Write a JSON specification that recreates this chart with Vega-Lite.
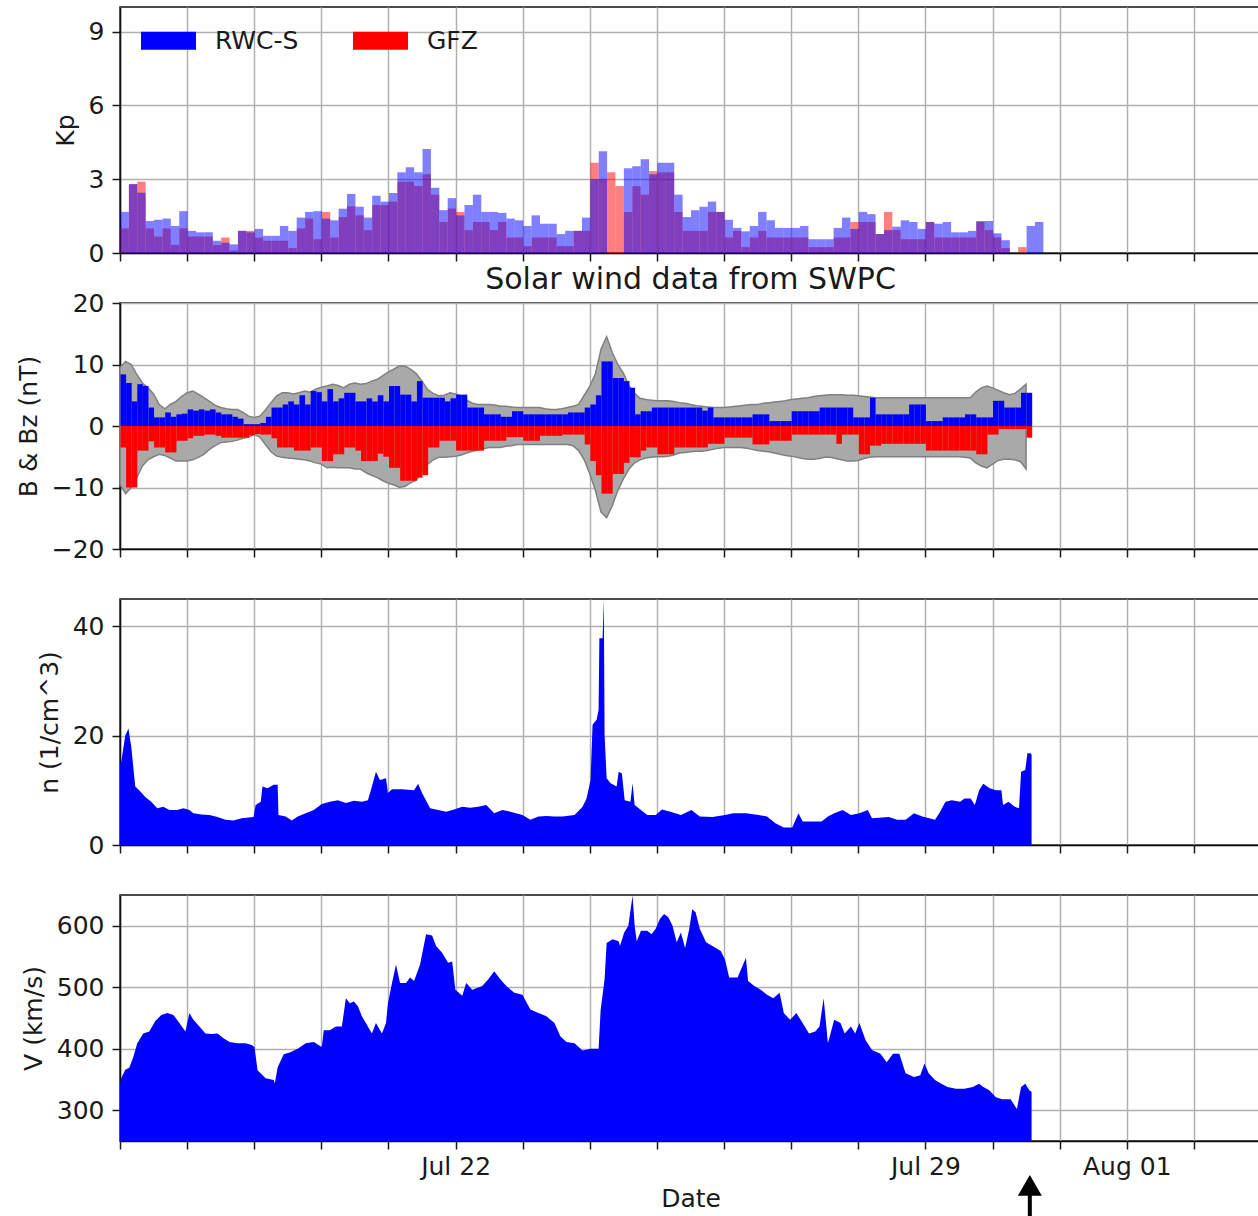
{
  "$schema": "https://vega.github.io/schema/vega-lite/v6.json",
  "background": "white",
  "padding": {"left": 15, "top": 6, "right": 0, "bottom": 0},
  "spacing": 50,
  "bounds": "flush",
  "config": {
    "font": "DejaVu Sans",
    "view": {"stroke": "#111", "strokeWidth": 1.5},
    "axis": {
      "labelFont": "DejaVu Sans", "labelFontSize": 25, "labelColor": "#1a1a1a",
      "titleFont": "DejaVu Sans", "titleFontSize": 25, "titleFontWeight": "normal", "titleColor": "#1a1a1a",
      "tickColor": "#1a1a1a", "tickSize": 8, "tickWidth": 1.5,
      "domainColor": "#111", "domainWidth": 1.5,
      "gridColor": "#b0b0b0", "gridWidth": 1.5, "gridOpacity": 1,
      "labelPadding": 8, "zindex": 1, "labelOverlap": false
    },
    "axisY": {"titlePadding": 10},
    "axisX": {"labelPadding": 5}
  },
  "vconcat": [
    {
      "width": 1141, "height": 246,
      "data": {
        "format": {"parse": {"t": "utc:'%Y-%m-%dT%H:%M'"}},
        "values": [
          {"t":"2023-07-17T00:00","RWC-S":1.67,"GFZ":1.0},{"t":"2023-07-17T03:00","RWC-S":2.8,"GFZ":2.8},{"t":"2023-07-17T06:00","RWC-S":2.45,"GFZ":2.9},{"t":"2023-07-17T09:00","RWC-S":1.3,"GFZ":1.0},
          {"t":"2023-07-17T12:00","RWC-S":1.35,"GFZ":0.67},{"t":"2023-07-17T15:00","RWC-S":1.4,"GFZ":1.0},{"t":"2023-07-17T18:00","RWC-S":1.1,"GFZ":0.33},{"t":"2023-07-17T21:00","RWC-S":1.7,"GFZ":1.0},
          {"t":"2023-07-18T00:00","RWC-S":0.9,"GFZ":0.67},{"t":"2023-07-18T03:00","RWC-S":0.84,"GFZ":0.67},{"t":"2023-07-18T06:00","RWC-S":0.84,"GFZ":0.67},{"t":"2023-07-18T09:00","RWC-S":0.5,"GFZ":0.33},
          {"t":"2023-07-18T12:00","RWC-S":0.42,"GFZ":0.63},{"t":"2023-07-18T15:00","RWC-S":0.35,"GFZ":0.1},{"t":"2023-07-18T18:00","RWC-S":0.9,"GFZ":0.9},{"t":"2023-07-18T21:00","RWC-S":0.84,"GFZ":0.9},
          {"t":"2023-07-19T00:00","RWC-S":0.98,"GFZ":0.63},{"t":"2023-07-19T03:00","RWC-S":0.7,"GFZ":0.5},{"t":"2023-07-19T06:00","RWC-S":0.7,"GFZ":0.5},{"t":"2023-07-19T09:00","RWC-S":1.1,"GFZ":0.5},
          {"t":"2023-07-19T12:00","RWC-S":0.9,"GFZ":0.2},{"t":"2023-07-19T15:00","RWC-S":1.44,"GFZ":1.0},{"t":"2023-07-19T18:00","RWC-S":1.67,"GFZ":1.4},{"t":"2023-07-19T21:00","RWC-S":1.7,"GFZ":0.56},
          {"t":"2023-07-20T00:00","RWC-S":1.4,"GFZ":1.67},{"t":"2023-07-20T03:00","RWC-S":1.33,"GFZ":0.63},{"t":"2023-07-20T06:00","RWC-S":1.8,"GFZ":1.46},{"t":"2023-07-20T09:00","RWC-S":2.4,"GFZ":1.9},
          {"t":"2023-07-20T12:00","RWC-S":1.88,"GFZ":1.53},{"t":"2023-07-20T15:00","RWC-S":1.44,"GFZ":0.93},{"t":"2023-07-20T18:00","RWC-S":2.33,"GFZ":1.95},{"t":"2023-07-20T21:00","RWC-S":2.09,"GFZ":1.95},
          {"t":"2023-07-21T00:00","RWC-S":2.44,"GFZ":2.09},{"t":"2023-07-21T03:00","RWC-S":3.28,"GFZ":2.9},{"t":"2023-07-21T06:00","RWC-S":3.49,"GFZ":2.9},{"t":"2023-07-21T09:00","RWC-S":3.28,"GFZ":2.72},
          {"t":"2023-07-21T12:00","RWC-S":4.23,"GFZ":3.2},{"t":"2023-07-21T15:00","RWC-S":2.65,"GFZ":2.37},{"t":"2023-07-21T18:00","RWC-S":1.74,"GFZ":1.26},{"t":"2023-07-21T21:00","RWC-S":2.23,"GFZ":1.81},
          {"t":"2023-07-22T00:00","RWC-S":1.53,"GFZ":1.67},{"t":"2023-07-22T03:00","RWC-S":1.95,"GFZ":0.93},{"t":"2023-07-22T06:00","RWC-S":2.37,"GFZ":1.26},{"t":"2023-07-22T09:00","RWC-S":1.67,"GFZ":1.26},
          {"t":"2023-07-22T12:00","RWC-S":1.67,"GFZ":0.93},{"t":"2023-07-22T15:00","RWC-S":1.63,"GFZ":1.26},{"t":"2023-07-22T18:00","RWC-S":1.4,"GFZ":0.63},{"t":"2023-07-22T21:00","RWC-S":1.33,"GFZ":0.63},
          {"t":"2023-07-23T00:00","RWC-S":1.1,"GFZ":0.28},{"t":"2023-07-23T03:00","RWC-S":1.53,"GFZ":0.63},{"t":"2023-07-23T06:00","RWC-S":1.19,"GFZ":0.63},{"t":"2023-07-23T09:00","RWC-S":1.19,"GFZ":0.63},
          {"t":"2023-07-23T12:00","RWC-S":0.77,"GFZ":0.28},{"t":"2023-07-23T15:00","RWC-S":0.9,"GFZ":0.28},{"t":"2023-07-23T18:00","RWC-S":0.9,"GFZ":0.9},{"t":"2023-07-23T21:00","RWC-S":1.44,"GFZ":0.9},
          {"t":"2023-07-24T00:00","RWC-S":3.0,"GFZ":3.67},{"t":"2023-07-24T03:00","RWC-S":4.14,"GFZ":3.0},{"t":"2023-07-24T06:00","RWC-S":null,"GFZ":3.28},{"t":"2023-07-24T09:00","RWC-S":null,"GFZ":2.72},
          {"t":"2023-07-24T12:00","RWC-S":3.45,"GFZ":1.67},{"t":"2023-07-24T15:00","RWC-S":3.53,"GFZ":2.72},{"t":"2023-07-24T18:00","RWC-S":3.81,"GFZ":2.37},{"t":"2023-07-24T21:00","RWC-S":3.2,"GFZ":3.33},
          {"t":"2023-07-25T00:00","RWC-S":3.67,"GFZ":3.28},{"t":"2023-07-25T03:00","RWC-S":3.67,"GFZ":3.28},{"t":"2023-07-25T06:00","RWC-S":2.37,"GFZ":1.67},{"t":"2023-07-25T09:00","RWC-S":1.46,"GFZ":0.9},
          {"t":"2023-07-25T12:00","RWC-S":1.74,"GFZ":0.9},{"t":"2023-07-25T15:00","RWC-S":1.88,"GFZ":0.9},{"t":"2023-07-25T18:00","RWC-S":2.09,"GFZ":1.67},{"t":"2023-07-25T21:00","RWC-S":1.67,"GFZ":1.67},
          {"t":"2023-07-26T00:00","RWC-S":1.35,"GFZ":0.63},{"t":"2023-07-26T03:00","RWC-S":1.02,"GFZ":0.9},{"t":"2023-07-26T06:00","RWC-S":0.88,"GFZ":0.24},{"t":"2023-07-26T09:00","RWC-S":1.1,"GFZ":0.63},
          {"t":"2023-07-26T12:00","RWC-S":1.67,"GFZ":0.9},{"t":"2023-07-26T15:00","RWC-S":1.33,"GFZ":0.63},{"t":"2023-07-26T18:00","RWC-S":1.02,"GFZ":0.63},{"t":"2023-07-26T21:00","RWC-S":1.02,"GFZ":0.63},
          {"t":"2023-07-27T00:00","RWC-S":1.02,"GFZ":0.63},{"t":"2023-07-27T03:00","RWC-S":1.1,"GFZ":0.63},{"t":"2023-07-27T06:00","RWC-S":0.56,"GFZ":0.24},{"t":"2023-07-27T09:00","RWC-S":0.56,"GFZ":0.24},
          {"t":"2023-07-27T12:00","RWC-S":0.56,"GFZ":0.24},{"t":"2023-07-27T15:00","RWC-S":1.02,"GFZ":0.63},{"t":"2023-07-27T18:00","RWC-S":1.44,"GFZ":0.63},{"t":"2023-07-27T21:00","RWC-S":0.98,"GFZ":1.26},
          {"t":"2023-07-28T00:00","RWC-S":1.67,"GFZ":1.26},{"t":"2023-07-28T03:00","RWC-S":1.58,"GFZ":1.26},{"t":"2023-07-28T06:00","RWC-S":0.77,"GFZ":0.77},{"t":"2023-07-28T09:00","RWC-S":0.93,"GFZ":1.67},
          {"t":"2023-07-28T12:00","RWC-S":1.07,"GFZ":0.93},{"t":"2023-07-28T15:00","RWC-S":1.33,"GFZ":0.56},{"t":"2023-07-28T18:00","RWC-S":1.26,"GFZ":0.56},{"t":"2023-07-28T21:00","RWC-S":0.98,"GFZ":0.56},
          {"t":"2023-07-29T00:00","RWC-S":1.26,"GFZ":1.26},{"t":"2023-07-29T03:00","RWC-S":1.19,"GFZ":0.63},{"t":"2023-07-29T06:00","RWC-S":1.26,"GFZ":0.63},{"t":"2023-07-29T09:00","RWC-S":0.84,"GFZ":0.63},
          {"t":"2023-07-29T12:00","RWC-S":0.84,"GFZ":0.63},{"t":"2023-07-29T15:00","RWC-S":0.9,"GFZ":0.63},{"t":"2023-07-29T18:00","RWC-S":1.3,"GFZ":1.26},{"t":"2023-07-29T21:00","RWC-S":1.3,"GFZ":0.93},
          {"t":"2023-07-30T00:00","RWC-S":0.8,"GFZ":0.63},{"t":"2023-07-30T03:00","RWC-S":0.52,"GFZ":0.2},{"t":"2023-07-30T06:00","RWC-S":0,"GFZ":0},{"t":"2023-07-30T09:00","RWC-S":0,"GFZ":0.24},
          {"t":"2023-07-30T12:00","RWC-S":1.1,"GFZ":null},{"t":"2023-07-30T15:00","RWC-S":1.26,"GFZ":null}
        ]
      },
      "transform": [{"fold": ["GFZ", "RWC-S"], "as": ["src", "kp"]}],
      "mark": {"type": "bar", "opacity": 0.5, "binSpacing": 0},
      "encoding": {
        "x": {"field": "t", "type": "temporal", "timeUnit": {"unit": "yearmonthdatehours", "step": 3, "utc": true},
          "scale": {"type": "utc", "domain": [{"year": 2023, "month": "jul", "date": 17, "utc": true}, {"year": 2023, "month": "aug", "date": 3, "utc": true}]},
          "axis": {"title": null, "labels": false, "tickCount": {"interval": "day", "step": 1}, "grid": true}},
        "y": {"field": "kp", "type": "quantitative", "stack": null, "scale": {"domain": [0, 10], "nice": false},
          "axis": {"values": [0, 3, 6, 9], "title": "Kp"}},
        "color": {"field": "src", "type": "nominal",
          "scale": {"domain": ["RWC-S", "GFZ"], "range": ["#0000ff", "#ff0000"]},
          "legend": {"orient": "none", "legendX": 21, "legendY": 6, "direction": "horizontal", "title": null,
            "symbolType": "M-1,-0.33H1V0.33H-1Z", "symbolSize": 3025, "symbolOpacity": 1, "symbolStrokeWidth": 0,
            "labelFont": "DejaVu Sans", "labelFontSize": 25, "labelColor": "#1a1a1a", "labelOffset": 19,
            "columnPadding": 54, "padding": 0}}
      }
    },
    {
      "width": 1141, "height": 246,
      "title": {"text": "Solar wind data from SWPC", "fontSize": 30, "fontWeight": "normal", "font": "DejaVu Sans", "color": "#1a1a1a", "anchor": "middle", "frame": "group", "offset": -4},
      "data": {
        "format": {"parse": {"t": "utc:'%Y-%m-%dT%H:%M'"}},
        "values": [
          {"t":"2023-07-17T00:00","hi":9.5,"lo":-9.5,"zp":8.4,"zn":-3.5},{"t":"2023-07-17T02:00","hi":10.5,"lo":-11,"zp":7,"zn":-10},{"t":"2023-07-17T04:00","hi":10,"lo":-10,"zp":4,"zn":-10},{"t":"2023-07-17T06:00","hi":8.4,"lo":-8.4,"zp":6.8,"zn":-4},
          {"t":"2023-07-17T08:00","hi":7,"lo":-6.5,"zp":6.5,"zn":-4},{"t":"2023-07-17T10:00","hi":6.2,"lo":-5.5,"zp":3,"zn":-2.5},{"t":"2023-07-17T12:00","hi":5.2,"lo":-5,"zp":1.4,"zn":-3.5},{"t":"2023-07-17T14:00","hi":3.5,"lo":-4.6,"zp":1.4,"zn":-3.5},
          {"t":"2023-07-17T16:00","hi":2.8,"lo":-4.8,"zp":2.2,"zn":-4.3},{"t":"2023-07-17T18:00","hi":3.5,"lo":-5.2,"zp":1.5,"zn":-4.3},{"t":"2023-07-17T20:00","hi":4,"lo":-5.7,"zp":1.9,"zn":-2.4},{"t":"2023-07-17T22:00","hi":4.8,"lo":-5.7,"zp":2,"zn":-2.4},
          {"t":"2023-07-18T00:00","hi":5.4,"lo":-5.7,"zp":2.7,"zn":-2},{"t":"2023-07-18T02:00","hi":5.7,"lo":-5.5,"zp":2.5,"zn":-1.6},{"t":"2023-07-18T04:00","hi":5.2,"lo":-5.1,"zp":2.7,"zn":-1.6},{"t":"2023-07-18T06:00","hi":4.6,"lo":-4.6,"zp":2.5,"zn":-1.4},
          {"t":"2023-07-18T08:00","hi":4,"lo":-3.8,"zp":2.7,"zn":-1.4},{"t":"2023-07-18T10:00","hi":3.4,"lo":-3.2,"zp":2.2,"zn":-1.6},{"t":"2023-07-18T12:00","hi":3,"lo":-2.7,"zp":1.9,"zn":-1.9},{"t":"2023-07-18T14:00","hi":2.8,"lo":-2.6,"zp":1.9,"zn":-1.9},
          {"t":"2023-07-18T16:00","hi":2.7,"lo":-2.5,"zp":1.5,"zn":-1.9},{"t":"2023-07-18T18:00","hi":2.7,"lo":-2.3,"zp":1.2,"zn":-1.9},{"t":"2023-07-18T20:00","hi":2.2,"lo":-2,"zp":0.3,"zn":-1.9},{"t":"2023-07-18T22:00","hi":1.6,"lo":-1.8,"zp":0.3,"zn":-1.5},
          {"t":"2023-07-19T00:00","hi":1.4,"lo":-1.4,"zp":0.3,"zn":-1.3},{"t":"2023-07-19T02:00","hi":1.6,"lo":-1.8,"zp":0.5,"zn":-1.4},{"t":"2023-07-19T04:00","hi":2.6,"lo":-3,"zp":1.5,"zn":-1.4},{"t":"2023-07-19T06:00","hi":3.8,"lo":-4.2,"zp":3,"zn":-2},
          {"t":"2023-07-19T08:00","hi":4.9,"lo":-4.9,"zp":3,"zn":-3.5},{"t":"2023-07-19T10:00","hi":5.4,"lo":-5.1,"zp":3.5,"zn":-3.5},{"t":"2023-07-19T12:00","hi":5.4,"lo":-5.2,"zp":4,"zn":-3.5},{"t":"2023-07-19T14:00","hi":5.2,"lo":-5.3,"zp":3.5,"zn":-4},
          {"t":"2023-07-19T16:00","hi":5.4,"lo":-5.4,"zp":5,"zn":-4},{"t":"2023-07-19T18:00","hi":5.7,"lo":-5.5,"zp":3.5,"zn":-4},{"t":"2023-07-19T20:00","hi":5.5,"lo":-5.7,"zp":5.7,"zn":-3.5},{"t":"2023-07-19T22:00","hi":6,"lo":-6,"zp":5.5,"zn":-3.5},
          {"t":"2023-07-20T00:00","hi":6.3,"lo":-6.2,"zp":4,"zn":-5.7},{"t":"2023-07-20T02:00","hi":6.5,"lo":-6.8,"zp":6,"zn":-5.7},{"t":"2023-07-20T04:00","hi":6.8,"lo":-6.7,"zp":4,"zn":-4.6},{"t":"2023-07-20T06:00","hi":6.6,"lo":-6.8,"zp":4.5,"zn":-4.6},
          {"t":"2023-07-20T08:00","hi":6.2,"lo":-6.8,"zp":5.4,"zn":-3.5},{"t":"2023-07-20T10:00","hi":6.8,"lo":-6.8,"zp":5.4,"zn":-3.5},{"t":"2023-07-20T12:00","hi":7,"lo":-7,"zp":4,"zn":-4},{"t":"2023-07-20T14:00","hi":6.8,"lo":-7,"zp":4,"zn":-5.7},
          {"t":"2023-07-20T16:00","hi":6.9,"lo":-7.6,"zp":4.5,"zn":-5.7},{"t":"2023-07-20T18:00","hi":7.3,"lo":-8,"zp":4,"zn":-5.7},{"t":"2023-07-20T20:00","hi":7.6,"lo":-8.4,"zp":5,"zn":-4.5},{"t":"2023-07-20T22:00","hi":8.2,"lo":-8.9,"zp":4,"zn":-5},
          {"t":"2023-07-21T00:00","hi":8.8,"lo":-9.3,"zp":6.5,"zn":-6.8},{"t":"2023-07-21T02:00","hi":9.3,"lo":-9.6,"zp":6.5,"zn":-6.8},{"t":"2023-07-21T04:00","hi":9.8,"lo":-10,"zp":5.1,"zn":-8.9},{"t":"2023-07-21T06:00","hi":9.7,"lo":-9.8,"zp":5.1,"zn":-8.9},
          {"t":"2023-07-21T08:00","hi":9.2,"lo":-9.2,"zp":4,"zn":-8.9},{"t":"2023-07-21T10:00","hi":8.5,"lo":-8.8,"zp":7.3,"zn":-8.4},{"t":"2023-07-21T12:00","hi":7.3,"lo":-7.5,"zp":4.6,"zn":-8},{"t":"2023-07-21T14:00","hi":5.9,"lo":-6.2,"zp":4.6,"zn":-3.5},
          {"t":"2023-07-21T16:00","hi":5.3,"lo":-5.5,"zp":4.6,"zn":-3.5},{"t":"2023-07-21T18:00","hi":4.9,"lo":-5.1,"zp":4.6,"zn":-2.4},{"t":"2023-07-21T20:00","hi":5,"lo":-5.1,"zp":4,"zn":-2.4},{"t":"2023-07-21T22:00","hi":5.4,"lo":-5,"zp":4.5,"zn":-2.4},
          {"t":"2023-07-22T00:00","hi":5.2,"lo":-4.9,"zp":5.1,"zn":-4},{"t":"2023-07-22T02:00","hi":4.9,"lo":-4.7,"zp":5.1,"zn":-4},{"t":"2023-07-22T04:00","hi":4.2,"lo":-4.4,"zp":3,"zn":-4},{"t":"2023-07-22T06:00","hi":3.7,"lo":-4.1,"zp":3,"zn":-4},
          {"t":"2023-07-22T08:00","hi":3.5,"lo":-3.9,"zp":3,"zn":-4},{"t":"2023-07-22T10:00","hi":3.5,"lo":-3.7,"zp":1.9,"zn":-2.4},{"t":"2023-07-22T12:00","hi":3.5,"lo":-3.5,"zp":1.9,"zn":-2.4},{"t":"2023-07-22T14:00","hi":3.4,"lo":-3.5,"zp":1.9,"zn":-2.4},
          {"t":"2023-07-22T16:00","hi":3.2,"lo":-3.5,"zp":1.5,"zn":-2.4},{"t":"2023-07-22T18:00","hi":3.2,"lo":-3.3,"zp":1.5,"zn":-1.8},{"t":"2023-07-22T20:00","hi":3.1,"lo":-3.2,"zp":2.4,"zn":-1.8},{"t":"2023-07-22T22:00","hi":3,"lo":-3,"zp":2.4,"zn":-1.8},
          {"t":"2023-07-23T00:00","hi":3,"lo":-3,"zp":1.9,"zn":-2.4},{"t":"2023-07-23T02:00","hi":3,"lo":-3,"zp":1.9,"zn":-2.4},{"t":"2023-07-23T04:00","hi":3,"lo":-3,"zp":1.9,"zn":-2.4},{"t":"2023-07-23T06:00","hi":3,"lo":-3,"zp":1.9,"zn":-1.6},
          {"t":"2023-07-23T08:00","hi":2.8,"lo":-3,"zp":1.9,"zn":-1.6},{"t":"2023-07-23T10:00","hi":2.7,"lo":-3,"zp":1.9,"zn":-1.6},{"t":"2023-07-23T12:00","hi":2.7,"lo":-3,"zp":1.9,"zn":-1.6},{"t":"2023-07-23T14:00","hi":2.8,"lo":-3,"zp":1.9,"zn":-1.4},
          {"t":"2023-07-23T16:00","hi":3,"lo":-3,"zp":2.2,"zn":-1.4},{"t":"2023-07-23T18:00","hi":3.2,"lo":-3.2,"zp":2.2,"zn":-1.4},{"t":"2023-07-23T20:00","hi":3.5,"lo":-4,"zp":2.2,"zn":-1.4},{"t":"2023-07-23T22:00","hi":5,"lo":-5.5,"zp":3,"zn":-3},
          {"t":"2023-07-24T00:00","hi":6.5,"lo":-7.8,"zp":3.5,"zn":-5.7},{"t":"2023-07-24T02:00","hi":8.5,"lo":-10.5,"zp":5,"zn":-8},{"t":"2023-07-24T04:00","hi":12.5,"lo":-14,"zp":10.5,"zn":-11},{"t":"2023-07-24T06:00","hi":14.5,"lo":-14.9,"zp":10.5,"zn":-11},
          {"t":"2023-07-24T08:00","hi":12,"lo":-13,"zp":7.8,"zn":-7.8},{"t":"2023-07-24T10:00","hi":10,"lo":-10.5,"zp":7.8,"zn":-7.8},{"t":"2023-07-24T12:00","hi":8.6,"lo":-8.6,"zp":7.3,"zn":-6},{"t":"2023-07-24T14:00","hi":6.5,"lo":-7,"zp":6.2,"zn":-5.1},
          {"t":"2023-07-24T16:00","hi":5.3,"lo":-6,"zp":1.9,"zn":-5.1},{"t":"2023-07-24T18:00","hi":4.5,"lo":-5.5,"zp":2.4,"zn":-4},{"t":"2023-07-24T20:00","hi":4.3,"lo":-5.2,"zp":2.4,"zn":-3.5},{"t":"2023-07-24T22:00","hi":4.2,"lo":-5.1,"zp":3,"zn":-3.5},
          {"t":"2023-07-25T00:00","hi":4.1,"lo":-5,"zp":3,"zn":-4.6},{"t":"2023-07-25T02:00","hi":4.1,"lo":-5,"zp":3,"zn":-4.6},{"t":"2023-07-25T04:00","hi":4.1,"lo":-4.9,"zp":3,"zn":-4.6},{"t":"2023-07-25T06:00","hi":4,"lo":-4.7,"zp":3,"zn":-3.5},
          {"t":"2023-07-25T08:00","hi":3.8,"lo":-4.4,"zp":3,"zn":-3.5},{"t":"2023-07-25T10:00","hi":3.7,"lo":-4.3,"zp":3,"zn":-3.5},{"t":"2023-07-25T12:00","hi":3.5,"lo":-4.2,"zp":3,"zn":-3.5},{"t":"2023-07-25T14:00","hi":3.3,"lo":-4.1,"zp":3,"zn":-3.5},
          {"t":"2023-07-25T16:00","hi":3.2,"lo":-4.1,"zp":2.5,"zn":-3.5},{"t":"2023-07-25T18:00","hi":3.1,"lo":-4,"zp":3,"zn":-2.9},{"t":"2023-07-25T20:00","hi":3,"lo":-3.8,"zp":1.4,"zn":-2.9},{"t":"2023-07-25T22:00","hi":3,"lo":-3.6,"zp":1.4,"zn":-2.9},
          {"t":"2023-07-26T00:00","hi":3,"lo":-3.5,"zp":1.4,"zn":-1.9},{"t":"2023-07-26T02:00","hi":3.1,"lo":-3.5,"zp":1.4,"zn":-1.9},{"t":"2023-07-26T04:00","hi":3.2,"lo":-3.5,"zp":1.4,"zn":-1.9},{"t":"2023-07-26T06:00","hi":3.3,"lo":-3.5,"zp":1.4,"zn":-1.9},
          {"t":"2023-07-26T08:00","hi":3.4,"lo":-3.6,"zp":1.4,"zn":-1.9},{"t":"2023-07-26T10:00","hi":3.5,"lo":-3.8,"zp":1.9,"zn":-3},{"t":"2023-07-26T12:00","hi":3.5,"lo":-4,"zp":1.9,"zn":-3},{"t":"2023-07-26T14:00","hi":3.7,"lo":-4.1,"zp":1.9,"zn":-3},
          {"t":"2023-07-26T16:00","hi":3.8,"lo":-4.2,"zp":0.8,"zn":-2.4},{"t":"2023-07-26T18:00","hi":3.9,"lo":-4.4,"zp":0.8,"zn":-2.4},{"t":"2023-07-26T20:00","hi":4,"lo":-4.6,"zp":0.8,"zn":-2.4},{"t":"2023-07-26T22:00","hi":4.1,"lo":-4.8,"zp":0.8,"zn":-2.4},
          {"t":"2023-07-27T00:00","hi":4.3,"lo":-4.9,"zp":2.4,"zn":-1.4},{"t":"2023-07-27T02:00","hi":4.4,"lo":-5.1,"zp":2.4,"zn":-1.4},{"t":"2023-07-27T04:00","hi":4.5,"lo":-5.3,"zp":2.4,"zn":-1.4},{"t":"2023-07-27T06:00","hi":4.6,"lo":-5.4,"zp":2.4,"zn":-1.4},
          {"t":"2023-07-27T08:00","hi":4.8,"lo":-5.4,"zp":2.4,"zn":-1.4},{"t":"2023-07-27T10:00","hi":4.9,"lo":-5.3,"zp":3,"zn":-1.4},{"t":"2023-07-27T12:00","hi":5,"lo":-5.1,"zp":3,"zn":-1.4},{"t":"2023-07-27T14:00","hi":5.1,"lo":-5.1,"zp":3,"zn":-1.4},
          {"t":"2023-07-27T16:00","hi":5.1,"lo":-5.3,"zp":3,"zn":-2.9},{"t":"2023-07-27T18:00","hi":5.1,"lo":-5.5,"zp":3,"zn":-1.4},{"t":"2023-07-27T20:00","hi":5,"lo":-5.7,"zp":3,"zn":-1.4},{"t":"2023-07-27T22:00","hi":5,"lo":-5.7,"zp":1.4,"zn":-1.4},
          {"t":"2023-07-28T00:00","hi":4.9,"lo":-5.6,"zp":1.4,"zn":-4.6},{"t":"2023-07-28T02:00","hi":4.8,"lo":-5.3,"zp":1.4,"zn":-4.6},{"t":"2023-07-28T04:00","hi":4.7,"lo":-5.1,"zp":4.6,"zn":-3.2},{"t":"2023-07-28T06:00","hi":4.6,"lo":-5,"zp":1.9,"zn":-3.2},
          {"t":"2023-07-28T08:00","hi":4.6,"lo":-5,"zp":1.9,"zn":-2.9},{"t":"2023-07-28T10:00","hi":4.6,"lo":-5,"zp":1.9,"zn":-2.9},{"t":"2023-07-28T12:00","hi":4.6,"lo":-5,"zp":1.9,"zn":-2.9},{"t":"2023-07-28T14:00","hi":4.6,"lo":-5,"zp":1.9,"zn":-2.9},
          {"t":"2023-07-28T16:00","hi":4.6,"lo":-5,"zp":1.9,"zn":-2.9},{"t":"2023-07-28T18:00","hi":4.6,"lo":-5,"zp":3.5,"zn":-2.9},{"t":"2023-07-28T20:00","hi":4.6,"lo":-5,"zp":3.5,"zn":-2.9},{"t":"2023-07-28T22:00","hi":4.6,"lo":-5,"zp":3.5,"zn":-2.9},
          {"t":"2023-07-29T00:00","hi":4.6,"lo":-5,"zp":0.8,"zn":-4},{"t":"2023-07-29T02:00","hi":4.6,"lo":-5,"zp":0.8,"zn":-4},{"t":"2023-07-29T04:00","hi":4.6,"lo":-5,"zp":0.8,"zn":-4},{"t":"2023-07-29T06:00","hi":4.6,"lo":-5,"zp":1.4,"zn":-4},
          {"t":"2023-07-29T08:00","hi":4.6,"lo":-5,"zp":1.4,"zn":-4},{"t":"2023-07-29T10:00","hi":4.6,"lo":-5,"zp":1.4,"zn":-4},{"t":"2023-07-29T12:00","hi":4.6,"lo":-5,"zp":1.4,"zn":-4},{"t":"2023-07-29T14:00","hi":4.6,"lo":-5.1,"zp":1.9,"zn":-4},
          {"t":"2023-07-29T16:00","hi":4.6,"lo":-5.2,"zp":1.9,"zn":-4},{"t":"2023-07-29T18:00","hi":5.5,"lo":-6,"zp":1.4,"zn":-4.6},{"t":"2023-07-29T20:00","hi":6.2,"lo":-6.5,"zp":1.4,"zn":-4.6},{"t":"2023-07-29T22:00","hi":6.5,"lo":-6.8,"zp":1.4,"zn":-1.4},
          {"t":"2023-07-30T00:00","hi":6.2,"lo":-6.2,"zp":4.1,"zn":-1.4},{"t":"2023-07-30T02:00","hi":5.8,"lo":-5.6,"zp":4.1,"zn":-0.5},{"t":"2023-07-30T04:00","hi":5.4,"lo":-5.4,"zp":3,"zn":-0.5},{"t":"2023-07-30T06:00","hi":5.1,"lo":-5.4,"zp":3,"zn":-0.5},
          {"t":"2023-07-30T08:00","hi":5.3,"lo":-5.5,"zp":3,"zn":-0.5},{"t":"2023-07-30T10:00","hi":6,"lo":-5.8,"zp":5.4,"zn":-0.5},{"t":"2023-07-30T12:00","hi":6.8,"lo":-7,"zp":5.4,"zn":-1.9}
        ]
      },
      "layer": [
        {
          "mark": {"type": "area", "color": "#a9a9a9", "stroke": "#808080", "strokeWidth": 1.5, "opacity": 1},
          "encoding": {
            "x": {"field": "t", "type": "temporal",
              "scale": {"type": "utc", "domain": [{"year": 2023, "month": "jul", "date": 17, "utc": true}, {"year": 2023, "month": "aug", "date": 3, "utc": true}]},
              "axis": {"title": null, "labels": false, "tickCount": {"interval": "day", "step": 1}, "grid": true}},
            "y": {"field": "hi", "type": "quantitative", "scale": {"domain": [-20, 20], "nice": false},
              "axis": {"values": [-20, -10, 0, 10, 20], "title": "B & Bz (nT)"}},
            "y2": {"field": "lo"}
          }
        },
        {
          "mark": {"type": "bar", "color": "#0000ff", "binSpacing": 0},
          "encoding": {
            "x": {"field": "t", "type": "temporal", "timeUnit": {"unit": "yearmonthdatehours", "step": 2, "utc": true}},
            "y": {"field": "zp", "type": "quantitative"}
          }
        },
        {
          "mark": {"type": "bar", "color": "#ff0000", "binSpacing": 0},
          "encoding": {
            "x": {"field": "t", "type": "temporal", "timeUnit": {"unit": "yearmonthdatehours", "step": 2, "utc": true}},
            "y": {"field": "zn", "type": "quantitative"}
          }
        }
      ]
    },
    {
      "width": 1141, "height": 246,
      "data": {
        "format": {"parse": {"t": "utc:'%Y-%m-%dT%H:%M'"}},
        "values": [
          {"t":"2023-07-17T00:00","n":15},{"t":"2023-07-17T00:26","n":15.2},{"t":"2023-07-17T01:52","n":20},{"t":"2023-07-17T03:01","n":21.3},{"t":"2023-07-17T04:01","n":18},{"t":"2023-07-17T05:27","n":10.7},
          {"t":"2023-07-17T06:53","n":10},{"t":"2023-07-17T09:02","n":8.8},{"t":"2023-07-17T11:11","n":7.9},{"t":"2023-07-17T13:20","n":6.7},{"t":"2023-07-17T15:29","n":7},{"t":"2023-07-17T17:38","n":6.4},
          {"t":"2023-07-17T20:31","n":6.4},{"t":"2023-07-17T22:40","n":6.7},{"t":"2023-07-18T00:49","n":6.4},{"t":"2023-07-18T02:15","n":5.8},{"t":"2023-07-18T05:07","n":5.6},{"t":"2023-07-18T07:59","n":5.5},
          {"t":"2023-07-18T10:52","n":5.1},{"t":"2023-07-18T13:44","n":4.6},{"t":"2023-07-18T16:36","n":4.5},{"t":"2023-07-18T19:28","n":4.9},{"t":"2023-07-18T23:46","n":5.1},{"t":"2023-07-19T00:29","n":7.3},
          {"t":"2023-07-19T02:21","n":7.9},{"t":"2023-07-19T02:55","n":10.7},{"t":"2023-07-19T04:47","n":10.4},{"t":"2023-07-19T06:57","n":11},{"t":"2023-07-19T08:23","n":11},{"t":"2023-07-19T08:40","n":5.5},
          {"t":"2023-07-19T11:15","n":5.2},{"t":"2023-07-19T13:24","n":4.5},{"t":"2023-07-19T15:33","n":5.2},{"t":"2023-07-19T18:25","n":5.8},{"t":"2023-07-19T21:17","n":6.4},{"t":"2023-07-20T00:10","n":7.5},
          {"t":"2023-07-20T03:01","n":7.9},{"t":"2023-07-20T05:54","n":8.2},{"t":"2023-07-20T08:46","n":7.7},{"t":"2023-07-20T11:38","n":8.1},{"t":"2023-07-20T14:30","n":7.9},{"t":"2023-07-20T16:39","n":8.2},
          {"t":"2023-07-20T18:05","n":10.7},{"t":"2023-07-20T19:31","n":13.4},{"t":"2023-07-20T20:57","n":11.9},{"t":"2023-07-20T23:07","n":12.2},{"t":"2023-07-20T23:49","n":9.5},{"t":"2023-07-21T01:16","n":10.2},
          {"t":"2023-07-21T04:50","n":10.2},{"t":"2023-07-21T09:09","n":10},{"t":"2023-07-21T10:35","n":11.2},{"t":"2023-07-21T12:01","n":9.5},{"t":"2023-07-21T14:53","n":6.7},{"t":"2023-07-21T17:46","n":6.4},
          {"t":"2023-07-21T20:38","n":6.1},{"t":"2023-07-21T23:29","n":6.5},{"t":"2023-07-22T02:22","n":7},{"t":"2023-07-22T05:14","n":6.8},{"t":"2023-07-22T08:06","n":7},{"t":"2023-07-22T10:58","n":7.3},
          {"t":"2023-07-22T13:50","n":5.8},{"t":"2023-07-22T16:43","n":6.4},{"t":"2023-07-22T19:35","n":6.1},{"t":"2023-07-22T23:53","n":5.5},{"t":"2023-07-23T02:45","n":4.6},{"t":"2023-07-23T05:37","n":5.2},
          {"t":"2023-07-23T08:29","n":5.3},{"t":"2023-07-23T11:22","n":5.2},{"t":"2023-07-23T14:14","n":5.2},{"t":"2023-07-23T18:32","n":5.5},{"t":"2023-07-23T21:24","n":7},{"t":"2023-07-23T22:50","n":8.5},
          {"t":"2023-07-24T00:16","n":11.9},{"t":"2023-07-24T00:59","n":22},{"t":"2023-07-24T02:25","n":22.9},{"t":"2023-07-24T03:08","n":24.7},{"t":"2023-07-24T03:25","n":37.8},{"t":"2023-07-24T04:34","n":37.8},
          {"t":"2023-07-24T05:00","n":45},{"t":"2023-07-24T05:17","n":20},{"t":"2023-07-24T06:01","n":12.2},{"t":"2023-07-24T07:26","n":11.3},{"t":"2023-07-24T09:35","n":10.7},{"t":"2023-07-24T10:19","n":13.4},
          {"t":"2023-07-24T11:28","n":13.1},{"t":"2023-07-24T12:28","n":8.2},{"t":"2023-07-24T14:32","n":7.9},{"t":"2023-07-24T15:17","n":11.3},{"t":"2023-07-24T16:02","n":7.3},{"t":"2023-07-24T18:17","n":6.4},
          {"t":"2023-07-24T20:33","n":5.5},{"t":"2023-07-24T23:33","n":5.5},{"t":"2023-07-25T01:48","n":6.5},{"t":"2023-07-25T04:49","n":6.1},{"t":"2023-07-25T08:34","n":5.5},{"t":"2023-07-25T12:19","n":6.4},
          {"t":"2023-07-25T15:19","n":5.2},{"t":"2023-07-25T19:50","n":5.1},{"t":"2023-07-26T00:20","n":5.5},{"t":"2023-07-26T03:20","n":5.8},{"t":"2023-07-26T07:50","n":5.8},{"t":"2023-07-26T12:21","n":5.5},
          {"t":"2023-07-26T15:21","n":5.2},{"t":"2023-07-26T18:21","n":4},{"t":"2023-07-26T21:22","n":3.2},{"t":"2023-07-27T00:22","n":3.2},{"t":"2023-07-27T02:37","n":5.8},{"t":"2023-07-27T04:07","n":4.3},
          {"t":"2023-07-27T10:52","n":4.3},{"t":"2023-07-27T13:08","n":5.2},{"t":"2023-07-27T15:23","n":5.8},{"t":"2023-07-27T18:23","n":6.4},{"t":"2023-07-27T21:23","n":5.5},{"t":"2023-07-28T00:23","n":5.8},
          {"t":"2023-07-28T03:24","n":6.4},{"t":"2023-07-28T04:54","n":4.9},{"t":"2023-07-28T10:54","n":5.1},{"t":"2023-07-28T13:55","n":4.6},{"t":"2023-07-28T16:55","n":4.6},{"t":"2023-07-28T19:55","n":5.8},
          {"t":"2023-07-28T22:55","n":5.2},{"t":"2023-07-29T03:26","n":4.6},{"t":"2023-07-29T04:56","n":5.8},{"t":"2023-07-29T07:11","n":7.9},{"t":"2023-07-29T09:26","n":8.2},{"t":"2023-07-29T12:26","n":7.9},
          {"t":"2023-07-29T13:56","n":8.5},{"t":"2023-07-29T16:11","n":8.5},{"t":"2023-07-29T17:41","n":7.3},{"t":"2023-07-29T19:12","n":10},{"t":"2023-07-29T20:42","n":11.2},{"t":"2023-07-29T22:57","n":10.4},
          {"t":"2023-07-30T01:12","n":10},{"t":"2023-07-30T03:10","n":10},{"t":"2023-07-30T03:46","n":7.3},{"t":"2023-07-30T05:43","n":7.9},{"t":"2023-07-30T07:58","n":7},{"t":"2023-07-30T09:28","n":6.7},
          {"t":"2023-07-30T10:13","n":13.4},{"t":"2023-07-30T11:43","n":13.7},{"t":"2023-07-30T12:28","n":16.8},{"t":"2023-07-30T13:40","n":16.8},{"t":"2023-07-30T13:58","n":16.5}
        ]
      },
      "mark": {"type": "area", "color": "#0000ff", "opacity": 1},
      "encoding": {
        "x": {"field": "t", "type": "temporal",
          "scale": {"type": "utc", "domain": [{"year": 2023, "month": "jul", "date": 17, "utc": true}, {"year": 2023, "month": "aug", "date": 3, "utc": true}]},
          "axis": {"title": null, "labels": false, "tickCount": {"interval": "day", "step": 1}, "grid": true}},
        "y": {"field": "n", "type": "quantitative", "scale": {"domain": [0, 45], "nice": false},
          "axis": {"values": [0, 20, 40], "title": "n (1/cm^3)"}}
      }
    },
    {
      "width": 1141, "height": 246,
      "layer": [
        {
          "data": {
            "format": {"parse": {"t": "utc:'%Y-%m-%dT%H:%M'"}},
            "values": [
              {"t":"2023-07-17T00:00","v":340},{"t":"2023-07-17T00:26","v":352},{"t":"2023-07-17T01:52","v":366},{"t":"2023-07-17T03:18","v":369},{"t":"2023-07-17T04:44","v":386},{"t":"2023-07-17T06:10","v":409},
              {"t":"2023-07-17T08:19","v":425},{"t":"2023-07-17T10:28","v":428},{"t":"2023-07-17T12:37","v":445},{"t":"2023-07-17T14:47","v":455},{"t":"2023-07-17T16:56","v":458},{"t":"2023-07-17T19:05","v":455},
              {"t":"2023-07-17T21:14","v":442},{"t":"2023-07-17T23:23","v":428},{"t":"2023-07-18T00:49","v":458},{"t":"2023-07-18T02:15","v":447},{"t":"2023-07-18T04:24","v":436},{"t":"2023-07-18T06:33","v":425},
              {"t":"2023-07-18T08:42","v":424},{"t":"2023-07-18T10:52","v":425},{"t":"2023-07-18T13:01","v":417},{"t":"2023-07-18T15:10","v":411},{"t":"2023-07-18T18:02","v":409},{"t":"2023-07-18T20:54","v":409},
              {"t":"2023-07-18T23:03","v":406},{"t":"2023-07-19T00:04","v":403},{"t":"2023-07-19T01:12","v":365},{"t":"2023-07-19T04:04","v":352},{"t":"2023-07-19T06:57","v":349},{"t":"2023-07-19T07:22","v":344},
              {"t":"2023-07-19T08:23","v":370},{"t":"2023-07-19T10:32","v":391},{"t":"2023-07-19T12:41","v":394},{"t":"2023-07-19T15:33","v":400},{"t":"2023-07-19T18:25","v":409},{"t":"2023-07-19T21:17","v":411},
              {"t":"2023-07-20T00:10","v":403},{"t":"2023-07-20T00:52","v":430},{"t":"2023-07-20T03:01","v":430},{"t":"2023-07-20T05:11","v":436},{"t":"2023-07-20T07:20","v":436},{"t":"2023-07-20T08:46","v":482},
              {"t":"2023-07-20T10:12","v":474},{"t":"2023-07-20T11:38","v":477},{"t":"2023-07-20T13:04","v":469},{"t":"2023-07-20T14:30","v":453},{"t":"2023-07-20T16:39","v":436},{"t":"2023-07-20T18:05","v":425},
              {"t":"2023-07-20T19:31","v":442},{"t":"2023-07-20T21:40","v":425},{"t":"2023-07-20T23:07","v":442},{"t":"2023-07-20T23:49","v":474},{"t":"2023-07-21T01:16","v":507},{"t":"2023-07-21T02:41","v":537},
              {"t":"2023-07-21T04:08","v":507},{"t":"2023-07-21T06:17","v":507},{"t":"2023-07-21T07:43","v":516},{"t":"2023-07-21T09:09","v":510},{"t":"2023-07-21T11:18","v":537},{"t":"2023-07-21T13:27","v":586},
              {"t":"2023-07-21T15:36","v":584},{"t":"2023-07-21T17:02","v":567},{"t":"2023-07-21T19:11","v":556},{"t":"2023-07-21T21:20","v":540},{"t":"2023-07-21T22:47","v":542},{"t":"2023-07-21T23:55","v":496},
              {"t":"2023-07-22T02:22","v":486},{"t":"2023-07-22T03:48","v":507},{"t":"2023-07-22T05:57","v":496},{"t":"2023-07-22T09:32","v":502},{"t":"2023-07-22T11:41","v":513},{"t":"2023-07-22T13:50","v":526},
              {"t":"2023-07-22T15:59","v":513},{"t":"2023-07-22T18:08","v":502},{"t":"2023-07-22T21:01","v":491},{"t":"2023-07-22T23:53","v":488},{"t":"2023-07-23T02:45","v":464},{"t":"2023-07-23T05:37","v":458},
              {"t":"2023-07-23T08:29","v":453},{"t":"2023-07-23T11:22","v":442},{"t":"2023-07-23T13:31","v":420},{"t":"2023-07-23T15:40","v":411},{"t":"2023-07-23T18:32","v":409},{"t":"2023-07-23T21:24","v":397},
              {"t":"2023-07-24T00:16","v":400},{"t":"2023-07-24T03:08","v":400},{"t":"2023-07-24T03:52","v":463},{"t":"2023-07-24T05:17","v":513},{"t":"2023-07-24T06:01","v":572},{"t":"2023-07-24T08:10","v":578},
              {"t":"2023-07-24T10:19","v":575},{"t":"2023-07-24T10:47","v":567},{"t":"2023-07-24T12:17","v":589},{"t":"2023-07-24T13:47","v":600},{"t":"2023-07-24T15:17","v":649},{"t":"2023-07-24T16:02","v":600},
              {"t":"2023-07-24T16:47","v":575},{"t":"2023-07-24T18:17","v":592},{"t":"2023-07-24T20:33","v":592},{"t":"2023-07-24T22:03","v":586},{"t":"2023-07-24T23:33","v":595},{"t":"2023-07-25T01:03","v":611},
              {"t":"2023-07-25T02:33","v":619},{"t":"2023-07-25T04:04","v":614},{"t":"2023-07-25T05:34","v":600},{"t":"2023-07-25T07:04","v":573},{"t":"2023-07-25T08:34","v":589},{"t":"2023-07-25T10:04","v":564},
              {"t":"2023-07-25T11:34","v":595},{"t":"2023-07-25T12:37","v":627},{"t":"2023-07-25T13:49","v":622},{"t":"2023-07-25T15:19","v":595},{"t":"2023-07-25T17:34","v":573},{"t":"2023-07-25T19:50","v":567},
              {"t":"2023-07-25T22:50","v":559},{"t":"2023-07-26T00:20","v":545},{"t":"2023-07-26T01:50","v":516},{"t":"2023-07-26T04:50","v":516},{"t":"2023-07-26T07:50","v":548},{"t":"2023-07-26T08:35","v":510},
              {"t":"2023-07-26T10:50","v":502},{"t":"2023-07-26T13:06","v":496},{"t":"2023-07-26T15:21","v":488},{"t":"2023-07-26T17:36","v":482},{"t":"2023-07-26T19:52","v":491},{"t":"2023-07-26T21:22","v":458},
              {"t":"2023-07-26T23:37","v":447},{"t":"2023-07-27T01:52","v":458},{"t":"2023-07-27T03:22","v":447},{"t":"2023-07-27T04:52","v":436},{"t":"2023-07-27T06:22","v":425},{"t":"2023-07-27T08:37","v":428},
              {"t":"2023-07-27T10:07","v":436},{"t":"2023-07-27T11:37","v":482},{"t":"2023-07-27T13:08","v":409},{"t":"2023-07-27T15:23","v":447},{"t":"2023-07-27T17:38","v":442},{"t":"2023-07-27T19:08","v":425},
              {"t":"2023-07-27T21:23","v":436},{"t":"2023-07-27T22:53","v":425},{"t":"2023-07-28T00:23","v":442},{"t":"2023-07-28T02:38","v":414},{"t":"2023-07-28T04:54","v":398},{"t":"2023-07-28T07:54","v":392},
              {"t":"2023-07-28T10:09","v":378},{"t":"2023-07-28T12:25","v":392},{"t":"2023-07-28T14:40","v":392},{"t":"2023-07-28T16:55","v":360},{"t":"2023-07-28T19:55","v":354},{"t":"2023-07-28T22:10","v":357},
              {"t":"2023-07-28T23:40","v":376},{"t":"2023-07-29T01:10","v":360},{"t":"2023-07-29T03:26","v":349},{"t":"2023-07-29T05:41","v":343},{"t":"2023-07-29T07:56","v":338},{"t":"2023-07-29T10:56","v":335},
              {"t":"2023-07-29T13:56","v":335},{"t":"2023-07-29T16:56","v":338},{"t":"2023-07-29T19:12","v":343},{"t":"2023-07-29T20:42","v":338},{"t":"2023-07-29T22:57","v":332},{"t":"2023-07-30T01:12","v":321},
              {"t":"2023-07-30T03:28","v":318},{"t":"2023-07-30T06:28","v":318},{"t":"2023-07-30T08:43","v":302},{"t":"2023-07-30T10:13","v":338},{"t":"2023-07-30T11:43","v":343},{"t":"2023-07-30T13:13","v":332},
              {"t":"2023-07-30T13:58","v":330}
            ]
          },
          "mark": {"type": "area", "color": "#0000ff", "opacity": 1},
          "encoding": {
            "x": {"field": "t", "type": "temporal",
              "scale": {"type": "utc", "domain": [{"year": 2023, "month": "jul", "date": 17, "utc": true}, {"year": 2023, "month": "aug", "date": 3, "utc": true}]},
              "axis": {"title": "Date", "titlePadding": 7, "tickCount": {"interval": "day", "step": 1}, "grid": true,
                "labelExpr": "indexof(['Jul 22','Jul 29','Aug 01'], utcFormat(datum.value, '%b %d')) >= 0 ? utcFormat(datum.value, '%b %d') : ''"}},
            "y": {"field": "v", "type": "quantitative", "scale": {"domain": [250, 650], "nice": false, "zero": false},
              "axis": {"values": [300, 400, 500, 600], "title": "V (km/s)"}},
            "y2": {"datum": 250}
          }
        },
        {
          "data": {"format": {"parse": {"t": "utc:'%Y-%m-%dT%H:%M'"}}, "values": [{"t": "2023-07-30T13:20", "y1": 100, "y2": 168, "yh": 178}]},
          "layer": [
            {"mark": {"type": "rule", "color": "#000", "strokeWidth": 4},
             "encoding": {"x": {"field": "t", "type": "temporal"}, "y": {"field": "y1", "type": "quantitative"}, "y2": {"field": "y2"}}},
            {"mark": {"type": "point", "shape": "triangle-up", "filled": true, "color": "#000", "size": 576, "opacity": 1},
             "encoding": {"x": {"field": "t", "type": "temporal"}, "y": {"field": "yh", "type": "quantitative"}}}
          ]
        }
      ]
    }
  ]
}
